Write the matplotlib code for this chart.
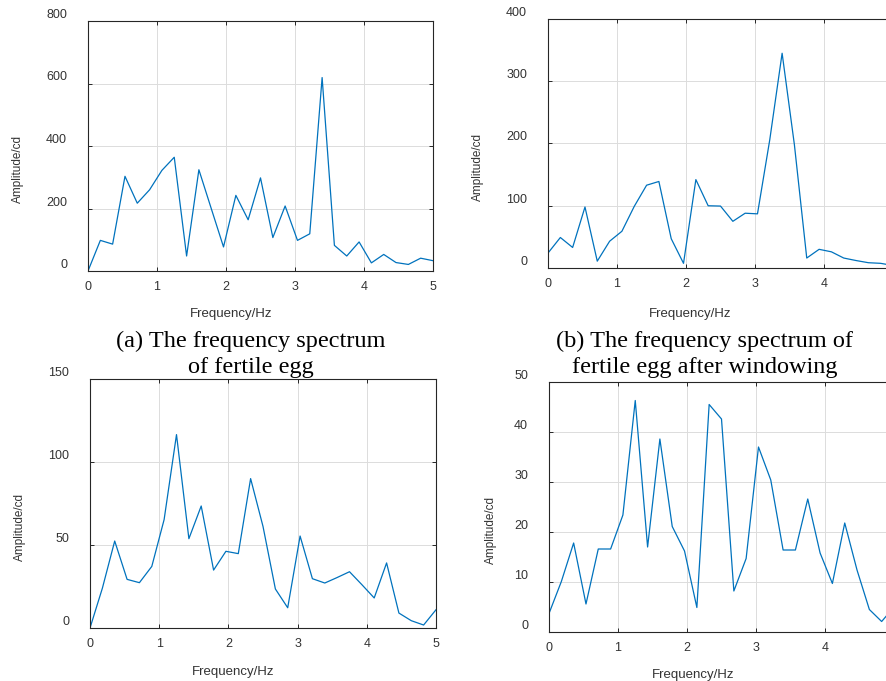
import matplotlib
matplotlib.use('Agg')
import matplotlib.pyplot as plt

# frequency bins (Hz)
freq = [0.0, 0.179, 0.357, 0.536, 0.714, 0.893, 1.071, 1.25, 1.429, 1.607,
        1.786, 1.964, 2.143, 2.321, 2.5, 2.679, 2.857, 3.036, 3.214, 3.393,
        3.571, 3.75, 3.929, 4.107, 4.286, 4.464, 4.643, 4.821, 5.0]

# (a) fertile egg spectrum
amp_a = [0, 98, 86, 303, 217, 260, 322, 364, 48, 324, 200, 77, 242, 164, 298,
         107, 208, 98, 119, 619, 82, 48, 93, 26, 53, 27, 21, 41, 33]
# (b) fertile egg after windowing
amp_b = [24, 49, 33, 98, 11, 43, 59, 99, 133, 139, 47, 7.5, 142, 100, 99.5,
         75, 88, 87, 206, 345, 198, 16, 30, 26, 16, 12, 8.5, 7.5, 4]
# (c)
amp_c = [0, 24, 52.4, 29.3, 27.3, 37.1, 65.3, 116.5, 53.8, 73.5, 34.9, 46.2,
         44.8, 90, 61.2, 23.5, 12.2, 55.4, 29.7, 27.1, 30.4, 33.9, 26.1, 18.1,
         39.2, 9, 4.4, 1.8, 11]
# (d)
amp_d = [3.7, 10.1, 17.8, 5.6, 16.6, 16.6, 23.4, 46.3, 17, 38.6, 21.1, 16.2,
         4.9, 45.5, 42.6, 8.2, 14.7, 37, 30.4, 16.4, 16.4, 26.6, 15.8, 9.7,
         21.8, 12.4, 4.5, 2.1, 5]

W, H = 886, 681
fig = plt.figure(figsize=(W / 100, H / 100), dpi=100)

sans = ['Liberation Sans', 'DejaVu Sans']
serif = ['Liberation Serif', 'DejaVu Serif']
dark = '#262626'


def panel(box, y, ymax, ystep, xticks, ylab_xy, xlab_xy):
    l, t, r, b = box
    ax = fig.add_axes([l / W, 1 - b / H, (r - l) / W, (b - t) / H])
    ax.plot(freq, y, color='#0072BD', lw=0.9)
    ax.set_xlim(0, 5)
    ax.set_ylim(0, ymax)
    ax.set_xticks(xticks)
    ax.set_yticks(list(range(0, ymax + 1, ystep)))
    ax.grid(True, color='#dcdcdc', lw=0.7)
    ax.set_axisbelow(True)
    ax.tick_params(direction='in', length=3, width=0.7, color=dark,
                   top=True, right=True, labelsize=9, labelcolor='#333333')
    ax.tick_params(axis='y', pad=15)
    ax.tick_params(axis='x', pad=7)
    for lab in ax.get_xticklabels() + ax.get_yticklabels():
        lab.set_family(sans)
    for lab in ax.get_yticklabels():
        lab.set_verticalalignment('bottom')
    for s in ax.spines.values():
        s.set_color(dark)
        s.set_linewidth(0.8)
    ax.set_ylabel('Amplitude/cd', fontsize=8.5, family=sans, color='#333333')
    ax.set_xlabel('Frequency/Hz', fontsize=9.5, family=sans, color='#333333')
    ax.yaxis.set_label_coords(ylab_xy[0] / W, 1 - ylab_xy[1] / H,
                              transform=fig.transFigure)
    ax.xaxis.set_label_coords(xlab_xy[0] / W, 1 - xlab_xy[1] / H,
                              transform=fig.transFigure)
    ax.yaxis.label.set_verticalalignment('center')
    ax.xaxis.label.set_verticalalignment('center')
    return ax


panel((88, 21, 433, 271), amp_a, 800, 200, [0, 1, 2, 3, 4, 5], (18, 169), (231, 314))
panel((548, 19, 893, 268), amp_b, 400, 100, [0, 1, 2, 3, 4], (478, 167), (690, 314))
panel((90, 379, 436, 628), amp_c, 150, 50, [0, 1, 2, 3, 4, 5], (20, 527), (233, 672))
panel((549, 382, 894, 632), amp_d, 50, 10, [0, 1, 2, 3, 4], (491, 530), (693, 675))

# captions
fig.text(251 / W, 1 - 341 / H, '(a) The frequency spectrum', ha='center', va='center',
         fontsize=17.5, family=serif)
fig.text(251 / W, 1 - 367 / H, 'of fertile egg', ha='center', va='center',
         fontsize=17.5, family=serif)
fig.text(705 / W, 1 - 341 / H, '(b) The frequency spectrum of', ha='center', va='center',
         fontsize=17.5, family=serif)
fig.text(705 / W, 1 - 367 / H, 'fertile egg after windowing', ha='center', va='center',
         fontsize=17.5, family=serif)

fig.savefig('out.png', dpi=100)
